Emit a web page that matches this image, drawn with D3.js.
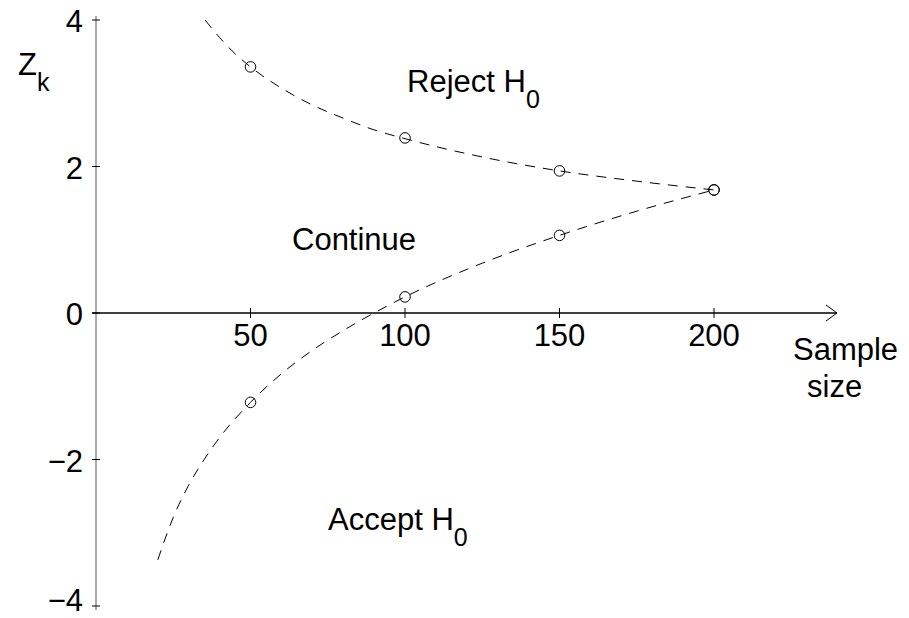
<!DOCTYPE html>
<html>
<head>
<meta charset="utf-8">
<script src="https://cdn.jsdelivr.net/npm/d3@7/dist/d3.min.js"></script>
<style>
  html, body { margin: 0; padding: 0; background: #fff; }
  text { font-family: "Liberation Sans", Arial, sans-serif; fill: #000; }
</style>
</head>
<body>
<svg id="chart" width="909" height="618"></svg>
<script>
// ---- data ----
const xTicks = [50, 100, 150, 200];
const yTicks = [4, 2, 0, -2, -4];
const yTickLabels = ["4", "2", "0", "\u22122", "\u22124"];

// analysis points (sample size, Z)
const upperPointsN = [50, 100, 150, 200];
const upperPointsZ = [3.36, 2.39, 1.94, 1.68];
const lowerPointsN = [50, 100, 150, 200];
const lowerPointsZ = [-1.22, 0.22, 1.06, 1.68];

// dashed boundary curves
const upperCurveN = [35.3, 40, 45, 50, 60, 70, 80, 90, 100, 125, 150, 175, 200];
const upperCurveZ = [4.0, 3.76, 3.54, 3.36, 3.07, 2.84, 2.66, 2.50, 2.38, 2.13, 1.94, 1.80, 1.68];
const lowerCurveN = [20, 25, 30, 35, 40, 50, 60, 70, 80, 90, 100, 125, 150, 175, 200];
const lowerCurveZ = [-3.37, -2.79, -2.35, -2.0, -1.70, -1.22, -0.83, -0.51, -0.24, 0.0, 0.22, 0.68, 1.06, 1.39, 1.68];

// ---- drawing ----
const svg = d3.select("#chart");
const x = d3.scaleLinear().domain([0, 200]).range([96, 714]);
const y = d3.scaleLinear().domain([-4, 4]).range([606, 20]);
const FS = 31, SUB = 25;

// y axis line
svg.append("line")
  .attr("x1", x(0)).attr("x2", x(0))
  .attr("y1", y(4) - 4).attr("y2", y(-4) + 4)
  .attr("stroke", "#555").attr("stroke-width", 1);

// y ticks (crosses) and labels
yTicks.forEach((v, i) => {
  const yy = y(v);
  svg.append("line").attr("x1", x(0) - 4).attr("x2", x(0) + 4)
    .attr("y1", yy).attr("y2", yy).attr("stroke", "#000").attr("stroke-width", 1);
  svg.append("text").attr("x", 83).attr("y", Math.min(yy + 12, 611))
    .attr("text-anchor", "end").attr("font-size", FS).text(yTickLabels[i]);
});

// x axis line with arrow
const axEnd = 837;
svg.append("line")
  .attr("x1", x(0) - 4).attr("x2", axEnd)
  .attr("y1", y(0)).attr("y2", y(0))
  .attr("stroke", "#000").attr("stroke-width", 1.3);
svg.append("path")
  .attr("d", `M${axEnd - 11},${y(0) - 8} L${axEnd},${y(0)} L${axEnd - 11},${y(0) + 8}`)
  .attr("fill", "none").attr("stroke", "#000").attr("stroke-width", 1);

// x ticks and labels
xTicks.forEach(v => {
  const xx = x(v);
  svg.append("line").attr("x1", xx).attr("x2", xx)
    .attr("y1", y(0) - 5).attr("y2", y(0) + 5).attr("stroke", "#000").attr("stroke-width", 1);
  svg.append("text").attr("x", xx).attr("y", 346)
    .attr("text-anchor", "middle").attr("font-size", FS).text(v);
});

// curves
const line = d3.line().x(d => x(d[0])).y(d => y(d[1])).curve(d3.curveMonotoneX);
const upperCurve = upperCurveN.map((n, i) => [n, upperCurveZ[i]]);
const lowerCurve = lowerCurveN.map((n, i) => [n, lowerCurveZ[i]]);
[upperCurve, lowerCurve].forEach(c => {
  svg.append("path").datum(c).attr("d", line)
    .attr("fill", "none").attr("stroke", "#000").attr("stroke-width", 1)
    .attr("stroke-dasharray", "10,8");
});

// points
const pts = upperPointsN.map((n, i) => [n, upperPointsZ[i]])
  .concat(lowerPointsN.map((n, i) => [n, lowerPointsZ[i]]));
svg.selectAll("circle.pt").data(pts).enter().append("circle")
  .attr("class", "pt")
  .attr("cx", d => x(d[0])).attr("cy", d => y(d[1])).attr("r", 5.3)
  .attr("fill", "none").attr("stroke", "#000").attr("stroke-width", 1);

// labels with subscripts
function subLabel(px, py, main, sub) {
  const t = svg.append("text").attr("x", px).attr("y", py).attr("font-size", FS);
  t.append("tspan").text(main);
  if (sub) t.append("tspan").attr("font-size", SUB).attr("dy", 16).text(sub);
}
subLabel(18, 75, "Z", "k");
subLabel(407, 92, "Reject H", "0");
subLabel(292, 250, "Continue", null);
subLabel(328, 530, "Accept H", "0");
subLabel(793, 360, "Sample", null);
subLabel(807, 397, "size", null);
</script>
</body>
</html>
